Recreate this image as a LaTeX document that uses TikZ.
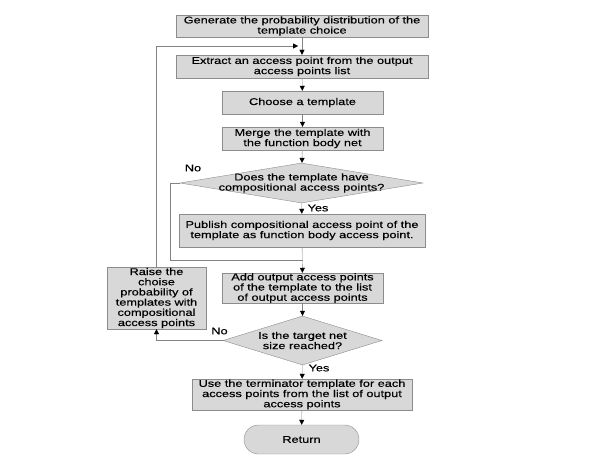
\documentclass[tikz,border=0pt]{standalone}
\usepackage{tikz}
\usepackage{xcolor}
\usepackage{fontspec}
\setmainfont{Liberation Sans}[FakeStretch=1.3,FakeBold=0.4]
\usetikzlibrary{shapes.geometric,arrows.meta}
\definecolor{boxfill}{RGB}{216,216,216}
\definecolor{boxline}{RGB}{140,140,140}
\definecolor{flowline}{RGB}{130,130,130}

\begin{document}
\begin{tikzpicture}[x=1pt,y=-1pt,
	font=\fontsize{9.8}{10.2}\selectfont,
	stepbox/.style={rectangle,draw=boxline,fill=boxfill,align=center,inner sep=0pt,minimum width=#1},
	ask/.style={diamond,draw=boxline,fill=boxfill,inner sep=0pt},
	flow/.style={draw=flowline,-{Triangle[color=black,width=5pt,length=5pt]}},
	plain/.style={draw=flowline}]
	\useasboundingbox (0,0) rectangle (596,468);
	\node [stepbox=252, minimum height=22] (gen) at (302,26) {Generate the probability distribution of the\\template choice};
	\node [stepbox=252, minimum height=23] (extract) at (302,66.5) {Extract an access point from the output\\access points list};
	\node [stepbox=161, minimum height=23] (choose) at (302.5,102.5) {Choose a template};
	\node [stepbox=161, minimum height=23] (merge) at (302.5,138.5) {Merge the template with\\the function body net};
	\node [ask, minimum width=243, minimum height=40] (q1) at (301.5,183) {};
	\node [align=center] (q1text) at (q1) {Does the template have\\compositional access points?};
	\node [stepbox=246, minimum height=33] (publish) at (302,230.5) {Publish compositional access point of the\\template as function body access point.};
	\node [stepbox=161, minimum height=30] (add) at (302.5,288) {Add output access points\\of the template to the list\\of output access points};
	\node [stepbox=99, minimum height=62] (raise) at (156.5,298) {Raise the\\choise\\probability of\\templates with\\compositional\\access points};
	\node [ask, minimum width=159, minimum height=49] (q2) at (302.5,340.5) {};
	\node [align=center] (q2text) at (q2) {Is the target net\\size reached?};
	\node [stepbox=220, minimum height=31] (term) at (302,394.5) {Use the terminator template for each\\access points from the list of output\\access points};
	\node [rectangle,rounded corners=14.5pt,draw=boxline,fill=boxfill,minimum width=115,minimum height=29] (ret) at (301.5,439.5) {Return};
	% labels
	\node (no1) at (193,168) {No};
	\node (yes1) at (318,208) {Yes};
	\node (no2) at (219.5,331) {No};
	\node (yes2) at (319,368) {Yes};
	% joints
	\coordinate (top) at (298,46);
	\coordinate (join) at (302.5,260);
	\coordinate (left1) at (170,183);
	% connectors
	\draw [flow] (gen) -- (extract);
	\draw [flow] (raise.north) |- (top);
	\draw [flow] (extract) -- (choose);
	\draw [flow] (choose) -- (merge);
	\draw [flow] (merge) -- (q1);
	\draw [flow] (q1) -- (publish);
	\draw [plain] (q1.west) -- (left1) |- (join);
	\draw [flow] (publish) -- (add);
	\draw [flow] (add) -- (q2);
	\draw [flow] (q2.west) -| (raise.south);
	\draw [flow] (q2) -- (term);
	\draw [flow] (term) -- (ret);
\end{tikzpicture}
\end{document}
